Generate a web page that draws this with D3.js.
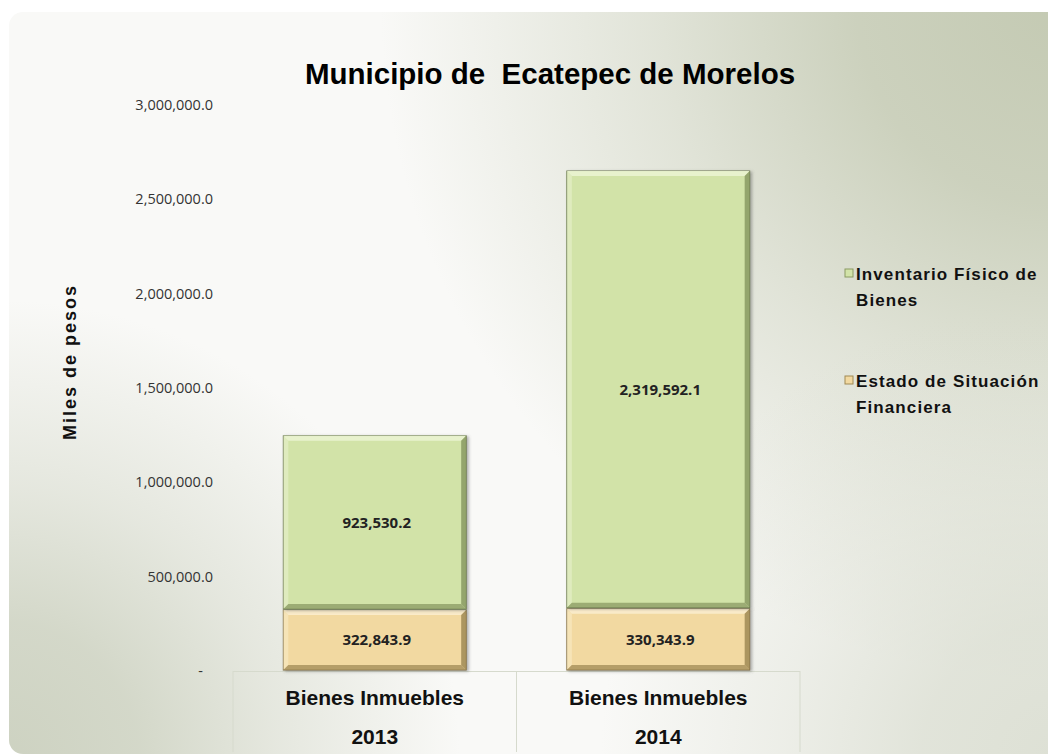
<!DOCTYPE html>
<html>
<head>
    <meta charset="utf-8">
    <title>Municipio de Ecatepec de Morelos</title>
    <script src="https://d3js.org/d3.v7.min.js"></script>
    <style>
        body { margin: 0; background: #fff; }
        .tick text {
            font-family: "Open Sans", sans-serif;
            font-size: 14.5px;
            fill: #333;
        }
        .title {
            font-family: "Liberation Sans", Arial, sans-serif;
            font-weight: bold;
            font-size: 29.5px;
            white-space: pre;
        }
        .ylabel, .cat, .legend text {
            font-family: "Liberation Sans", Arial, sans-serif;
            font-weight: bold;
            fill: #111;
        }
        .value {
            font-family: "Open Sans", sans-serif;
            font-weight: bold;
            font-size: 15px;
            fill: #222;
        }
    </style>
</head>
<body>
<svg width="1048" height="756"></svg>
<script>
    // data
    const categories = ["Bienes Inmuebles 2013", "Bienes Inmuebles 2014"];
    const catLine1 = ["Bienes Inmuebles", "Bienes Inmuebles"];
    const catLine2 = ["2013", "2014"];
    const seriesNames = ["Estado de Situación Financiera", "Inventario Físico de Bienes"];
    const estadoSituacion = [322843.9, 330343.9];
    const inventarioFisico = [923530.2, 2319592.1];
    const yTicks = [0, 500000, 1000000, 1500000, 2000000, 2500000, 3000000];

    const colors = {
        "Estado de Situación Financiera": { fill: "#f2d9a1", light: "#faeccb", dark: "#a08a55", line: "#7d6b40" },
        "Inventario Físico de Bienes": { fill: "#d2e3a8", light: "#e9f2cf", dark: "#8a9a63", line: "#66744a" }
    };

    const svg = d3.select("svg");
    const defs = svg.append("defs");

    // background: near-white panel with darker corners
    function cornerShade(id, cx, cy, r, color, op) {
        const g = defs.append("radialGradient")
            .attr("id", id).attr("gradientUnits", "userSpaceOnUse")
            .attr("cx", cx).attr("cy", cy).attr("r", r);
        g.append("stop").attr("offset", "0%").attr("stop-color", color).attr("stop-opacity", op);
        g.append("stop").attr("offset", "30%").attr("stop-color", color).attr("stop-opacity", op * 0.85);
        g.append("stop").attr("offset", "60%").attr("stop-color", color).attr("stop-opacity", op * 0.45);
        g.append("stop").attr("offset", "100%").attr("stop-color", color).attr("stop-opacity", 0);
    }
    cornerShade("shadeTR", 1060, 0, 680, "#c4cab3", 1);
    cornerShade("shadeBL", 0, 760, 460, "#cdd2c1", 1);
    cornerShade("shadeBR", 1060, 760, 460, "#d6dacc", 0.8);

    const shadow = defs.append("filter").attr("id", "shadow")
        .attr("x", "-10%").attr("y", "-10%").attr("width", "130%").attr("height", "130%");
    shadow.append("feDropShadow").attr("dx", 2).attr("dy", 1).attr("stdDeviation", 1.5)
        .attr("flood-color", "#555").attr("flood-opacity", 0.45);

    const clip = defs.append("clipPath").attr("id", "panel");
    clip.append("rect")
        .attr("x", 9).attr("y", 12)
        .attr("width", 1070).attr("height", 742)
        .attr("rx", 14);

    const panel = svg.append("g").attr("clip-path", "url(#panel)");
    panel.append("rect").attr("x", 0).attr("y", 0).attr("width", 1048).attr("height", 756).attr("fill", "#f9f9f7");
    ["shadeTR", "shadeBL", "shadeBR"].forEach(id => {
        panel.append("rect").attr("x", 0).attr("y", 0).attr("width", 1048).attr("height", 756)
            .attr("fill", `url(#${id})`);
    });

    const x = d3.scaleBand()
        .domain(categories)
        .range([233, 800])
        .paddingInner(0.355)
        .paddingOuter(0.1775);

    const y = d3.scaleLinear()
        .domain([0, 3000000])
        .range([671, 105]);

    // y axis (labels only)
    const yAxis = svg.append("g")
        .attr("transform", "translate(221,0)")
        .call(d3.axisLeft(y)
            .tickValues(yTicks)
            .tickSize(0)
            .tickPadding(8)
            .tickFormat(d => d === 0 ? "-" : d3.format(",.1f")(d)));
    yAxis.select(".domain").remove();
    yAxis.selectAll(".tick text").filter(d => d === 0).attr("dx", -10);

    // category box
    const box = svg.append("g").attr("stroke", "#d6dacd").attr("fill", "none");
    box.append("line").attr("x1", 233).attr("x2", 800).attr("y1", y(0) + 0.5).attr("y2", y(0) + 0.5);
    [233, x.step() + 233, 800].forEach(v => {
        box.append("line").attr("x1", v).attr("x2", v).attr("y1", y(0)).attr("y2", 752);
    });

    svg.selectAll(".cat1")
        .data(categories)
        .join("text")
        .attr("class", "cat")
        .attr("x", d => x(d) + x.bandwidth() / 2)
        .attr("y", 705)
        .attr("text-anchor", "middle")
        .attr("font-size", 21)
        .text((d, i) => catLine1[i]);

    svg.selectAll(".cat2")
        .data(categories)
        .join("text")
        .attr("class", "cat")
        .attr("x", d => x(d) + x.bandwidth() / 2)
        .attr("y", 744)
        .attr("text-anchor", "middle")
        .attr("font-size", 21)
        .text((d, i) => catLine2[i]);

    // stacked bars
    const rows = categories.map((c, i) => ({
        cat: c,
        "Estado de Situación Financiera": estadoSituacion[i],
        "Inventario Físico de Bienes": inventarioFisico[i]
    }));
    const stacked = d3.stack().keys(seriesNames)(rows);

    const b = 5;
    stacked.forEach(layer => {
        const col = colors[layer.key];
        layer.forEach((seg, i) => {
            const x0 = x(rows[i].cat), x1 = x0 + x.bandwidth();
            const y0 = y(seg[1]), y1 = y(seg[0]) - 1;
            const g = svg.append("g");
            g.append("rect")
                .attr("x", x0).attr("y", y0)
                .attr("width", x1 - x0).attr("height", y1 - y0)
                .attr("fill", col.fill)
                .attr("stroke", col.line).attr("stroke-width", 1)
                .attr("filter", "url(#shadow)");
            const poly = (pts, fill, op) => g.append("polygon")
                .attr("points", pts.map(p => p.join(",")).join(" "))
                .attr("fill", fill).attr("opacity", op);
            poly([[x0, y0], [x1, y0], [x1 - b, y0 + b], [x0 + b, y0 + b]], col.light, 0.95);
            poly([[x0, y0], [x0 + b, y0 + b], [x0 + b, y1 - b], [x0, y1]], col.light, 0.55);
            poly([[x1, y0], [x1, y1], [x1 - b, y1 - b], [x1 - b, y0 + b]], col.dark, 0.85);
            poly([[x0, y1], [x1, y1], [x1 - b, y1 - b], [x0 + b, y1 - b]], col.dark, 0.75);
            g.append("text")
                .attr("class", "value")
                .attr("x", (x0 + x1) / 2 + 2)
                .attr("y", (y0 + y1) / 2)
                .attr("dy", "0.35em")
                .attr("text-anchor", "middle")
                .text(d3.format(",.1f")(seg[1] - seg[0]));
        });
    });

    // title
    svg.append("text")
        .attr("class", "title")
        .attr("x", 550).attr("y", 84)
        .attr("text-anchor", "middle")
        .text("Municipio de  Ecatepec de Morelos");

    // y label
    svg.append("text")
        .attr("class", "ylabel")
        .attr("transform", "translate(76,362) rotate(-90)")
        .attr("text-anchor", "middle")
        .attr("font-size", 18)
        .attr("letter-spacing", 2)
        .text("Miles de pesos");

    // legend
    const legendItems = [
        { key: "Inventario Físico de Bienes", lines: ["Inventario Físico de", "Bienes"], y: 274 },
        { key: "Estado de Situación Financiera", lines: ["Estado de Situación", "Financiera"], y: 381 }
    ];
    const legend = svg.append("g").attr("class", "legend");
    legendItems.forEach(it => {
        const col = colors[it.key];
        legend.append("rect")
            .attr("x", 845).attr("y", it.y - 5)
            .attr("width", 8).attr("height", 8)
            .attr("fill", col.fill).attr("stroke", col.dark);
        legend.append("text")
            .attr("x", 856).attr("y", it.y)
            .attr("font-size", 17)
            .attr("letter-spacing", 1.1)
            .selectAll("tspan")
            .data(it.lines)
            .join("tspan")
            .attr("x", 856)
            .attr("dy", (d, i) => i === 0 ? "0.35em" : "1.55em")
            .text(d => d);
    });
</script>
</body>
</html>
